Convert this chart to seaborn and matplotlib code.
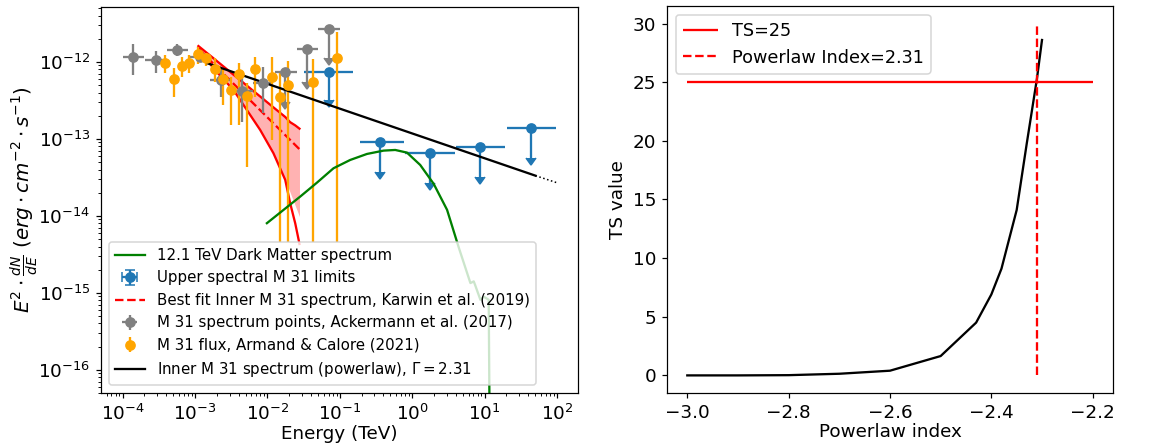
import numpy as np
import matplotlib
matplotlib.use("Agg")
import matplotlib.pyplot as plt
import seaborn as sns

plt.rcParams['font.size'] = 12

# ---------------- Left panel data ----------------
# Dark matter spectrum (12.1 TeV)
dm_E = [9.82e-3, 2.83e-2, 4.82e-2, 8.18e-2, 0.139, 0.237, 0.402, 0.583, 0.847, 1.29, 1.98,
        3.03, 4.39, 6.37, 7.08, 7.41, 8.75, 9.77, 11.4, 12.0]
dm_F = [8.04e-15, 1.78e-14, 2.70e-14, 4.16e-14, 5.33e-14, 6.38e-14, 7.05e-14, 7.19e-14,
        6.64e-14, 4.59e-14, 2.61e-14, 1.20e-14, 3.90e-15, 1.34e-15, 1.41e-15, 1.26e-15,
        8.13e-16, 8.91e-16, 8.13e-16, 1e-18]

# Upper spectral limits (blue)
ul_E = [6.98e-2, 0.354, 1.74, 8.75, 44.4]
ul_Elo = [3.15e-2, 0.191, 0.785, 4.04, 20.5]
ul_Ehi = [0.152, 0.771, 3.85, 19.4, 98.4]
ul_F = [7.48e-13, 9.06e-14, 6.64e-14, 7.80e-14, 1.38e-13]
ul_Flo = [3.21e-13, 3.70e-14, 2.66e-14, 3.19e-14, 5.61e-14]

# Karwin et al. (2019) best fit and band
kw_E = [1.112e-3, 1.79e-3, 3.39e-3, 7.93e-3, 1.21e-2, 1.76e-2, 2.06e-2, 2.42e-2, 2.77e-2]
kw_low = [1.52e-12, 8.28e-13, 4.33e-13, 1.31e-13, 6.52e-14, 2.94e-14, 1.46e-14, 8.0e-15, 4.32e-15]
kw_up = [1.61e-12, 1.12e-12, 6.84e-13, 3.56e-13, 2.57e-13, 1.93e-13, 1.65e-13, 1.50e-13, 1.36e-13]
kw_fill_E = [1.112e-3, 1.79e-3, 3.39e-3, 7.93e-3, 1.21e-2, 1.76e-2, 2.77e-2]
kw_fill_low = [1.52e-12, 8.28e-13, 4.33e-13, 1.31e-13, 6.52e-14, 2.94e-14, 9.8e-15]
kw_fill_up = [1.61e-12, 1.12e-12, 6.84e-13, 3.56e-13, 2.57e-13, 1.93e-13, 1.36e-13]
kw_best_E = [1.112e-3, 2.77e-2]
kw_best_F = [1.48e-12, 7.35e-14]

# Ackermann et al. (2017) points (gray)
ack_E = [1.40e-4, 2.89e-4, 5.69e-4, 1.17e-3, 2.26e-3, 4.43e-3, 8.81e-3]
ack_Elo = [1.02e-4, 2.03e-4, 4.06e-4, 8.07e-4, 1.61e-3, 3.22e-3, 6.40e-3]
ack_Ehi = [1.99e-4, 4.06e-4, 7.93e-4, 1.61e-3, 3.22e-3, 6.40e-3, 1.21e-2]
ack_F = [1.17e-12, 1.06e-12, 1.43e-12, 1.17e-12, 5.83e-13, 4.23e-13, 5.38e-13]
ack_Flo = [6.72e-13, 7.26e-13, 1.20e-12, 1.02e-12, 3.51e-13, 1.68e-13, 2.16e-13]
ack_Fhi = [1.70e-12, 1.40e-12, 1.70e-12, 1.33e-12, 8.35e-13, 6.44e-13, 8.69e-13]
# Ackermann upper limits
ackul_E = [1.76e-2, 3.51e-2, 6.98e-2]
ackul_Elo = [1.28e-2, 2.55e-2, 5.07e-2]
ackul_Ehi = [2.55e-2, 4.92e-2, 9.91e-2]
ackul_F = [7.48e-13, 1.46e-12, 2.68e-12]
ackul_Flo = [3.05e-13, 5.45e-13, 1.12e-12]

# Armand & Calore (2021) fluxes (orange)
ac_E = [3.88e-4, 5.13e-4, 6.61e-4, 8.34e-4, 1.11e-3, 1.42e-3, 1.89e-3, 2.42e-3, 3.12e-3,
        4.10e-3, 5.24e-3, 6.82e-3, 1.15e-2, 1.50e-2, 1.92e-2, 4.25e-2, 9.12e-2]
ac_F = [9.79e-13, 5.96e-13, 8.95e-13, 9.79e-13, 1.27e-12, 1.12e-12, 8.11e-13, 5.96e-13, 4.37e-13,
        7.05e-13, 3.59e-13, 8.11e-13, 6.44e-13, 3.48e-13, 5.03e-13, 5.55e-13, 1.12e-12]
ac_Flo = [7.26e-13, 3.54e-13, 6.33e-13, 7.26e-13, 9.42e-13, 8.87e-13, 5.55e-13, 2.77e-13, 1.52e-13,
          1.52e-13, 4.33e-14, 3.54e-13, 9.70e-14, 4.64e-15, 4.64e-15, 4.64e-15, 4.64e-15]
ac_Fhi = [1.23e-12, 8.28e-13, 1.15e-12, 1.23e-12, 1.58e-12, 1.32e-12, 1.12e-12, 8.28e-13, 6.38e-13,
          9.79e-13, 5.28e-13, 1.17e-12, 1.15e-12, 7.19e-13, 1.03e-12, 1.08e-12, 2.48e-12]

# Inner M31 powerlaw (black)
pl_E = [1.48e-3, 50.5]
pl_F = [9.62e-13, 3.33e-14]
pl_ext_E = [50.5, 98.4]
pl_ext_F = [3.33e-14, 2.71e-14]

# ---------------- Right panel data ----------------
ts_index = [-3.0, -2.9, -2.8, -2.7, -2.6, -2.5, -2.43, -2.40, -2.38, -2.35, -2.33, -2.31, -2.30]
ts_value = [0.0, 0.0, 0.02, 0.14, 0.4, 1.65, 4.5, 6.9, 9.1, 14.1, 19.8, 25.3, 28.6]
ts_thresh = 25
best_index = -2.31

DPI = 110
fig = plt.figure(figsize=(1158 / DPI, 443 / DPI), dpi=DPI)
ax1 = fig.add_axes([0.0872, 0.1129, 0.4119, 0.8713])
ax2 = fig.add_axes([0.576, 0.1129, 0.3851, 0.8736])

ax1.set_xscale('log')
ax1.set_yscale('log')

# Karwin band
ax1.fill_between(kw_fill_E, kw_fill_low, kw_fill_up, color='red', alpha=0.3, lw=0)
sns.lineplot(x=kw_E, y=kw_up, ax=ax1, color='red', lw=1.5, sort=False)
sns.lineplot(x=kw_E, y=kw_low, ax=ax1, color='red', lw=1.5, sort=False)
sns.lineplot(x=kw_best_E, y=kw_best_F, ax=ax1, color='red', lw=1.5, linestyle='--', sort=False)
h_kw = ax1.lines[-1]

# Blue upper limits
E = np.array(ul_E); F = np.array(ul_F)
h_ul = ax1.errorbar(E, F, xerr=[E - np.array(ul_Elo), np.array(ul_Ehi) - E],
                    yerr=F - np.array(ul_Flo), uplims=True, fmt='o', color='#1f77b4')

# Gray points
E = np.array(ack_E); F = np.array(ack_F)
h_ack = ax1.errorbar(E, F, xerr=[E - np.array(ack_Elo), np.array(ack_Ehi) - E],
                     yerr=[F - np.array(ack_Flo), np.array(ack_Fhi) - F], fmt='o', color='gray')
E = np.array(ackul_E); F = np.array(ackul_F)
ax1.errorbar(E, F, xerr=[E - np.array(ackul_Elo), np.array(ackul_Ehi) - E],
             yerr=F - np.array(ackul_Flo), uplims=True, fmt='o', color='gray')

# Orange points
E = np.array(ac_E); F = np.array(ac_F)
h_ac = ax1.errorbar(E, F, yerr=[F - np.array(ac_Flo), np.array(ac_Fhi) - F], fmt='o', color='orange')

# Green DM line
sns.lineplot(x=dm_E, y=dm_F, ax=ax1, color='green', lw=1.5, sort=False)
h_dm = ax1.lines[-1]

# Black powerlaw
sns.lineplot(x=pl_E, y=pl_F, ax=ax1, color='black', lw=1.5, sort=False)
h_pl = ax1.lines[-1]
sns.lineplot(x=pl_ext_E, y=pl_ext_F, ax=ax1, color='black', lw=1.0, linestyle=':', sort=False)

ax1.set_xlim(5.01e-5, 195)
ax1.set_ylim(5.0e-17, 5.18e-12)
ax1.set_xlabel('Energy (TeV)', labelpad=1)
ax1.set_ylabel(r'$E^2 \cdot \frac{dN}{dE}\ (erg \cdot cm^{-2} \cdot s^{-1})$',
               fontsize=13, labelpad=-2)

ax1.legend([h_dm, h_ul, h_kw, h_ack, h_ac, h_pl],
           ['12.1 TeV Dark Matter spectrum',
            'Upper spectral M 31 limits',
            'Best fit Inner M 31 spectrum, Karwin et al. (2019)',
            'M 31 spectrum points, Ackermann et al. (2017)',
            'M 31 flux, Armand & Calore (2021)',
            r'Inner M 31 spectrum (powerlaw), $\Gamma = 2.31$'],
           loc='lower left', fontsize=9.85)

# ---------------- Right panel ----------------
sns.lineplot(x=ts_index, y=ts_value, ax=ax2, color='black', lw=1.5, sort=False)
ax2.hlines(ts_thresh, ts_index[0], -2.2, colors='red', label='TS=25')
ax2.vlines(best_index, 0, 30, colors='red', linestyles='--', label='Powerlaw Index=2.31')
ax2.set_xlabel('Powerlaw index', labelpad=1)
ax2.set_ylabel('TS value')
ax2.set_xlim(-3.04, -2.16)
ax2.set_ylim(-1.5, 31.5)
ax2.set_yticks([0, 5, 10, 15, 20, 25, 30])
h1, l1 = ax2.get_legend_handles_labels()
ax2.legend(h1, l1, loc='upper left', fontsize=11.5)

fig.savefig('out.png', dpi=DPI)
